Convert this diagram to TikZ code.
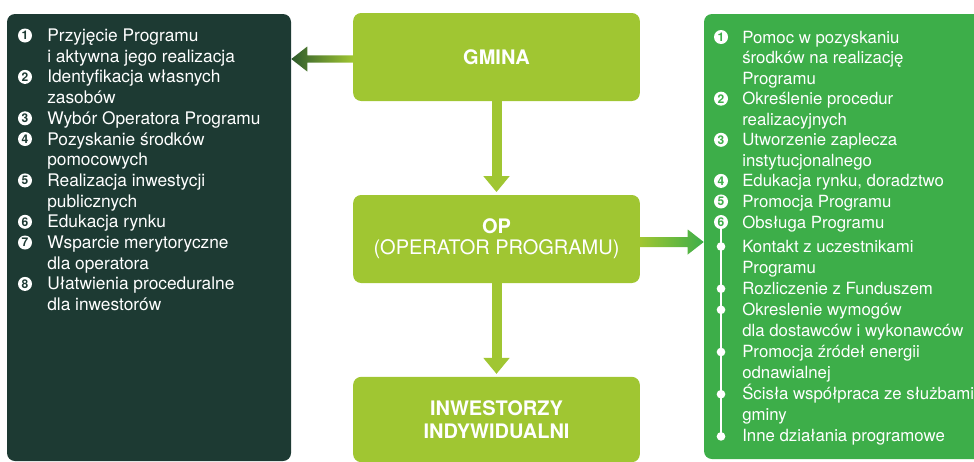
\documentclass[tikz,border=0pt]{standalone}
\usepackage{fontspec}
\setmainfont{TeX Gyre Heros}
\usetikzlibrary{arrows.meta,calc}

\definecolor{boxdark}{HTML}{1D3A33}
\definecolor{boxlime}{HTML}{A0C632}
\definecolor{boxgreen}{HTML}{3DAE49}
\definecolor{arrowdark}{HTML}{2E5A2D}

\newcommand{\stackedtext}[1]{\begin{tabular}[t]{@{}l@{}}#1\end{tabular}}

\tikzset{
  panel/.style={fill=#1, rounded corners=6pt, inner sep=0pt},
  centerbox/.style={fill=boxlime, rounded corners=6pt, text=white, align=center,
    minimum width=215pt, minimum height=66pt, inner sep=0pt,
    font=\fontsize{15}{16}\selectfont},
  numdot/.style={circle, fill=white, inner sep=0pt, minimum size=10.5pt,
    text=#1, font=\bfseries\fontsize{9}{9}\selectfont},
  subdot/.style={circle, fill=white, inner sep=0pt, minimum size=6.5pt},
  itemtext/.style={anchor=base west, inner sep=0pt, text=white},
  downarrow/.style={draw=boxlime, line width=7.5pt, shorten >=2pt,
    -{Triangle[length=12pt,width=19pt]}},
}

\begin{document}
\begin{tikzpicture}[x=0.75pt,y=-0.75pt]
  \clip (0,0) rectangle (974,461);

  % Panels
  \node[panel=boxdark, minimum width=213pt, minimum height=335.25pt] (gminatasks) at (149,237.5) {};
  \node[panel=boxgreen, minimum width=216pt, minimum height=333.75pt] (optasks) at (848,236.5) {};

  % Middle column
  \node[centerbox, font=\bfseries\fontsize{15}{16}\selectfont] (gmina) at (496.5,57) {\raisebox{-3pt}{GMINA}};
  \node[centerbox] (op) at (496.5,239) {\textbf{OP}\\(OPERATOR PROGRAMU)};
  \node[centerbox, minimum height=64pt, font=\bfseries\fontsize{15}{17}\selectfont] (inwestorzy) at (496.5,419.5) {INWESTORZY\\INDYWIDUALNI};

  % Arrows down
  \draw[downarrow] (gmina.south) -- (op.north);
  \draw[downarrow] (op.south) -- (inwestorzy.north);

  % Arrow to the left panel
  \coordinate (gmtip) at ($(gminatasks.east |- gmina.west)+(0,2)$);
  \coordinate (gmtail) at ($(gmina.west)+(0,2)$);
  \shade[left color=arrowdark, right color=boxlime]
    ($(gmtail)+(0,-3.7)$) -- ($(gmtip)+(16,-3.7)$) -- ($(gmtip)+(16,-12.5)$) -- (gmtip)
    -- ($(gmtip)+(16,12.5)$) -- ($(gmtip)+(16,3.7)$) -- ($(gmtail)+(0,3.7)$) -- cycle;

  % Arrow to the right panel
  \coordinate (optip) at ($(optasks.west |- op.east)+(0,3)$);
  \coordinate (optail) at ($(op.east)+(0,3)$);
  \shade[left color=boxlime, right color=boxgreen]
    ($(optail)+(0,-5)$) -- ($(optip)+(-16,-5)$) -- ($(optip)+(-16,-12.5)$) -- (optip)
    -- ($(optip)+(-16,12.5)$) -- ($(optip)+(-16,5)$) -- ($(optail)+(0,5)$) -- cycle;

  % Tasks of the gmina
  \foreach \k/\n/\txt [evaluate=\k as \y using 41.5+20.7*\k] in {
      0/1/{Przyjęcie Programu\\i aktywna jego realizacja},
      2/2/{Identyfikacja własnych\\zasobów},
      4/3/{Wybór Operatora Programu},
      5/4/{Pozyskanie środków\\pomocowych},
      7/5/{Realizacja inwestycji\\publicznych},
      9/6/{Edukacja rynku},
      10/7/{Wsparcie merytoryczne\\dla operatora},
      12/8/{Ułatwienia proceduralne\\dla inwestorów}} {
    \node[numdot=boxdark] (l\n) at (25,\y-6) {\n};
    \node[itemtext, font=\fontsize{13}{15.5}\selectfont] (lt\n) at (47,\y) {\stackedtext{\txt}};
  }

  % Tasks of the operator
  \foreach \k/\n/\txt [evaluate=\k as \y using 43+20.56*\k] in {
      0/1/{Pomoc w pozyskaniu\\środków na realizację\\Programu},
      3/2/{Określenie procedur\\realizacyjnych},
      5/3/{Utworzenie zaplecza\\instytucjonalnego},
      7/4/{Edukacja rynku, doradztwo},
      8/5/{Promocja Programu},
      9/6/{Obsługa Programu}} {
    \node[numdot=boxgreen] (r\n) at (721,\y-6) {\n};
    \node[itemtext, font=\fontsize{12.6}{15.42}\selectfont] (rt\n) at (742,\y) {\stackedtext{\txt}};
  }

  % Obsluga Programu, sub-items
  \foreach \k/\n/\txt [evaluate=\k as \y using 252+21.1*\k] in {
      0/1/{Kontakt z uczestnikami\\Programu},
      2/2/{Rozliczenie z Funduszem},
      3/3/{Okreslenie wymogów\\dla dostawców i wykonawców},
      5/4/{Promocja źródeł energii\\odnawialnej},
      7/5/{Ścisła współpraca ze służbami\\gminy},
      9/6/{Inne działania programowe}} {
    \node[subdot] (s\n) at (721,\y-5.5) {};
    \node[itemtext, font=\fontsize{12.6}{15.82}\selectfont] (st\n) at (742,\y) {\stackedtext{\txt}};
  }
  \draw[white, line width=1.1pt] (r6.south) -- (s6.center);
\end{tikzpicture}
\end{document}
